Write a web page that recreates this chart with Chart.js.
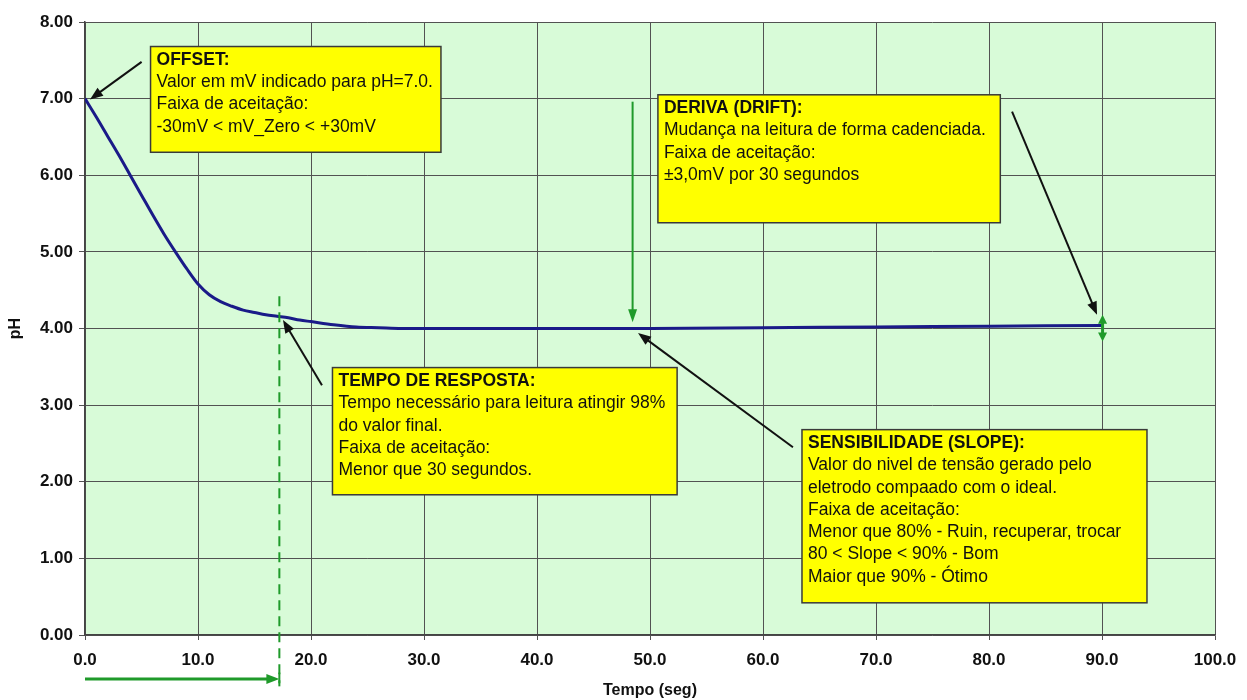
<!DOCTYPE html>
<html>
<head>
<meta charset="utf-8">
<script src="https://cdn.jsdelivr.net/npm/chart.js@4.4.1/dist/chart.umd.min.js"></script>
<style>
  html, body { margin: 0; padding: 0; background: #fff; }
  #wrap { width: 1247px; height: 700px; }
</style>
</head>
<body>
<div id="wrap"><canvas id="ph-chart" width="1247" height="700"></canvas></div>
<script>
/* Curva de resposta do eletrodo de pH */

const timeSec = [0, 1, 2, 3, 4, 5, 6, 7, 8, 9, 10, 11, 12, 13, 14, 15, 16, 17, 18, 19, 20,
                 22, 24, 26, 28, 30, 40, 50, 60, 70, 80, 90];
const phValues = [7.00, 6.76, 6.51, 6.26, 6.00, 5.74, 5.48, 5.23, 5.00, 4.78, 4.58, 4.44, 4.35, 4.29,
                  4.24, 4.21, 4.18, 4.16, 4.14, 4.11, 4.09, 4.05, 4.02, 4.01, 4.00, 4.00, 4.00, 4.00,
                  4.01, 4.02, 4.03, 4.04];
const xTicks = [0, 10, 20, 30, 40, 50, 60, 70, 80, 90, 100];
const yTicks = [0, 1, 2, 3, 4, 5, 6, 7, 8];

const FONT = '"Liberation Sans", Arial, sans-serif';
const GREEN = '#1f9a2a';

// caixas de texto (coordenadas em unidades dos eixos)
const notes = [
    { x1: 5.8, x2: 31.5, y1: 7.68, y2: 6.30, lines: ['OFFSET:', 'Valor em mV indicado para pH=7.0.', 'Faixa de aceitação:', '-30mV < mV_Zero < +30mV'] },
    { x1: 50.7, x2: 81.0, y1: 7.05, y2: 5.38, lines: ['DERIVA (DRIFT):', 'Mudança na leitura de forma cadenciada.', 'Faixa de aceitação:', '±3,0mV por 30 segundos'] },
    { x1: 21.9, x2: 52.4, y1: 3.49, y2: 1.83, lines: ['TEMPO DE RESPOSTA:', 'Tempo necessário para leitura atingir 98%', 'do valor final.', 'Faixa de aceitação:', 'Menor que 30 segundos.'] },
    { x1: 63.45, x2: 93.98, y1: 2.68, y2: 0.42, lines: ['SENSIBILIDADE (SLOPE):', 'Valor do nivel de tensão gerado pelo', 'eletrodo compaado com o ideal.', 'Faixa de aceitação:', 'Menor que 80% - Ruin, recuperar, trocar', '80 < Slope < 90% - Bom', 'Maior que 90% - Ótimo'] }
];

const pointers = [
    { from: [5.01, 7.48], to: [0.44, 6.99] },
    { from: [82.04, 6.83], to: [89.56, 4.18] },
    { from: [20.97, 3.26], to: [17.52, 4.11] },
    { from: [62.65, 2.45], to: [48.94, 3.94] }
];

function arrowHead(ctx, x0, y0, x1, y1, len, wid, color) {
    const a = Math.atan2(y1 - y0, x1 - x0);
    ctx.save();
    ctx.fillStyle = color;
    ctx.beginPath();
    ctx.moveTo(x1, y1);
    ctx.lineTo(x1 - len * Math.cos(a) + wid / 2 * Math.sin(a), y1 - len * Math.sin(a) - wid / 2 * Math.cos(a));
    ctx.lineTo(x1 - len * Math.cos(a) - wid / 2 * Math.sin(a), y1 - len * Math.sin(a) + wid / 2 * Math.cos(a));
    ctx.closePath();
    ctx.fill();
    ctx.restore();
}

function arrow(ctx, x0, y0, x1, y1, color, width, len, wid) {
    const a = Math.atan2(y1 - y0, x1 - x0);
    ctx.save();
    ctx.strokeStyle = color;
    ctx.lineWidth = width;
    ctx.beginPath();
    ctx.moveTo(x0, y0);
    ctx.lineTo(x1 - (len - 2) * Math.cos(a), y1 - (len - 2) * Math.sin(a));
    ctx.stroke();
    ctx.restore();
    arrowHead(ctx, x0, y0, x1, y1, len, wid, color);
}

const plotBg = {
    id: 'plotBg',
    beforeDraw(chart) {
        const { ctx, chartArea: a } = chart;
        ctx.save();
        ctx.fillStyle = '#d8fbd8';
        ctx.fillRect(a.left, a.top, a.right - a.left, a.bottom - a.top);
        ctx.restore();
    }
};

const annotations = {
    id: 'annotations',
    afterDraw(chart) {
        const ctx = chart.ctx;
        const xs = chart.scales.x, ys = chart.scales.y;
        const px = v => xs.getPixelForValue(v);
        const py = v => ys.getPixelForValue(v);

        // linha tracejada do tempo de resposta
        ctx.save();
        ctx.strokeStyle = GREEN;
        ctx.lineWidth = 2;
        ctx.setLineDash([10, 6]);
        ctx.beginPath();
        ctx.moveTo(px(17.2), py(4.42));
        ctx.lineTo(px(17.2), py(-0.63));
        ctx.stroke();
        ctx.restore();

        // seta horizontal abaixo do eixo
        arrow(ctx, px(0), py(-0.575), px(17.2), py(-0.575), GREEN, 3, 13, 10);
        ctx.save();
        ctx.strokeStyle = GREEN;
        ctx.lineWidth = 2;
        ctx.beginPath();
        ctx.moveTo(px(17.2), py(-0.49));
        ctx.lineTo(px(17.2), py(-0.67));
        ctx.stroke();
        ctx.restore();

        // seta verde vertical (estabilização)
        arrow(ctx, px(48.46), py(6.96), px(48.46), py(4.08), GREEN, 2, 13, 9);

        // seta dupla da deriva
        const mid = py(4.0);
        arrow(ctx, px(90.05), mid, px(90.05), py(4.18), GREEN, 3, 9, 9);
        arrow(ctx, px(90.05), mid, px(90.05), py(3.83), GREEN, 3, 9, 9);

        // setas pretas
        pointers.forEach(p => {
            arrow(ctx, px(p.from[0]), py(p.from[1]), px(p.to[0]), py(p.to[1]), '#111', 2, 13, 10);
        });

        // caixas amarelas
        notes.forEach(n => {
            const l = px(n.x1), r = px(n.x2), t = py(n.y1), b = py(n.y2);
            ctx.save();
            ctx.fillStyle = '#ffff00';
            ctx.fillRect(l, t, r - l, b - t);
            ctx.strokeStyle = '#3a3a3a';
            ctx.lineWidth = 1.5;
            ctx.strokeRect(l, t, r - l, b - t);
            ctx.fillStyle = '#111';
            ctx.textBaseline = 'middle';
            ctx.textAlign = 'left';
            n.lines.forEach((s, i) => {
                ctx.font = (i === 0 ? 'bold ' : '') + '17.5px ' + FONT;
                ctx.fillText(s, l + 6, t + 13.5 + i * 22.3);
            });
            ctx.restore();
        });
    }
};

const ctx = document.getElementById('ph-chart').getContext('2d');
const phChart = new Chart(ctx, {
    type: 'line',
    data: {
        datasets: [{
            label: 'pH',
            data: timeSec.map((t, i) => ({ x: t, y: phValues[i] })),
            borderColor: '#1a1a88',
            borderWidth: 3,
            pointRadius: 0,
            cubicInterpolationMode: 'monotone',
            fill: false
        }]
    },
    options: {
        responsive: false,
        animation: false,
        layout: { padding: { top: 22, right: 32, left: 0, bottom: 0 } },
        plugins: { legend: { display: false }, tooltip: { enabled: false } },
        scales: {
            x: {
                type: 'linear',
                min: 0, max: 100,
                afterFit: s => { s.height = 65; },
                afterBuildTicks: s => { s.ticks = xTicks.map(v => ({ value: v })); },
                grid: { color: '#525252', lineWidth: 1, tickLength: 5 },
                border: { color: '#444', width: 1.5 },
                ticks: {
                    padding: 10,
                    color: '#111',
                    font: { family: FONT, size: 17, weight: 'bold' },
                    callback: v => v.toFixed(1)
                },
                title: {
                    display: true,
                    text: 'Tempo (seg)',
                    color: '#111',
                    padding: 0,
                    font: { family: FONT, size: 16, weight: 'bold' }
                }
            },
            y: {
                min: 0, max: 8,
                afterFit: s => { s.width = 85; },
                afterBuildTicks: s => { s.ticks = yTicks.map(v => ({ value: v })); },
                grid: { color: '#525252', lineWidth: 1, tickLength: 6 },
                border: { color: '#444', width: 1.5 },
                ticks: {
                    padding: 6,
                    color: '#111',
                    font: { family: FONT, size: 17, weight: 'bold' },
                    callback: v => v.toFixed(2)
                },
                title: {
                    display: true,
                    text: 'pH',
                    color: '#111',
                    padding: 6,
                    font: { family: FONT, size: 16, weight: 'bold' }
                }
            }
        }
    },
    plugins: [plotBg, annotations]
});
</script>
</body>
</html>
